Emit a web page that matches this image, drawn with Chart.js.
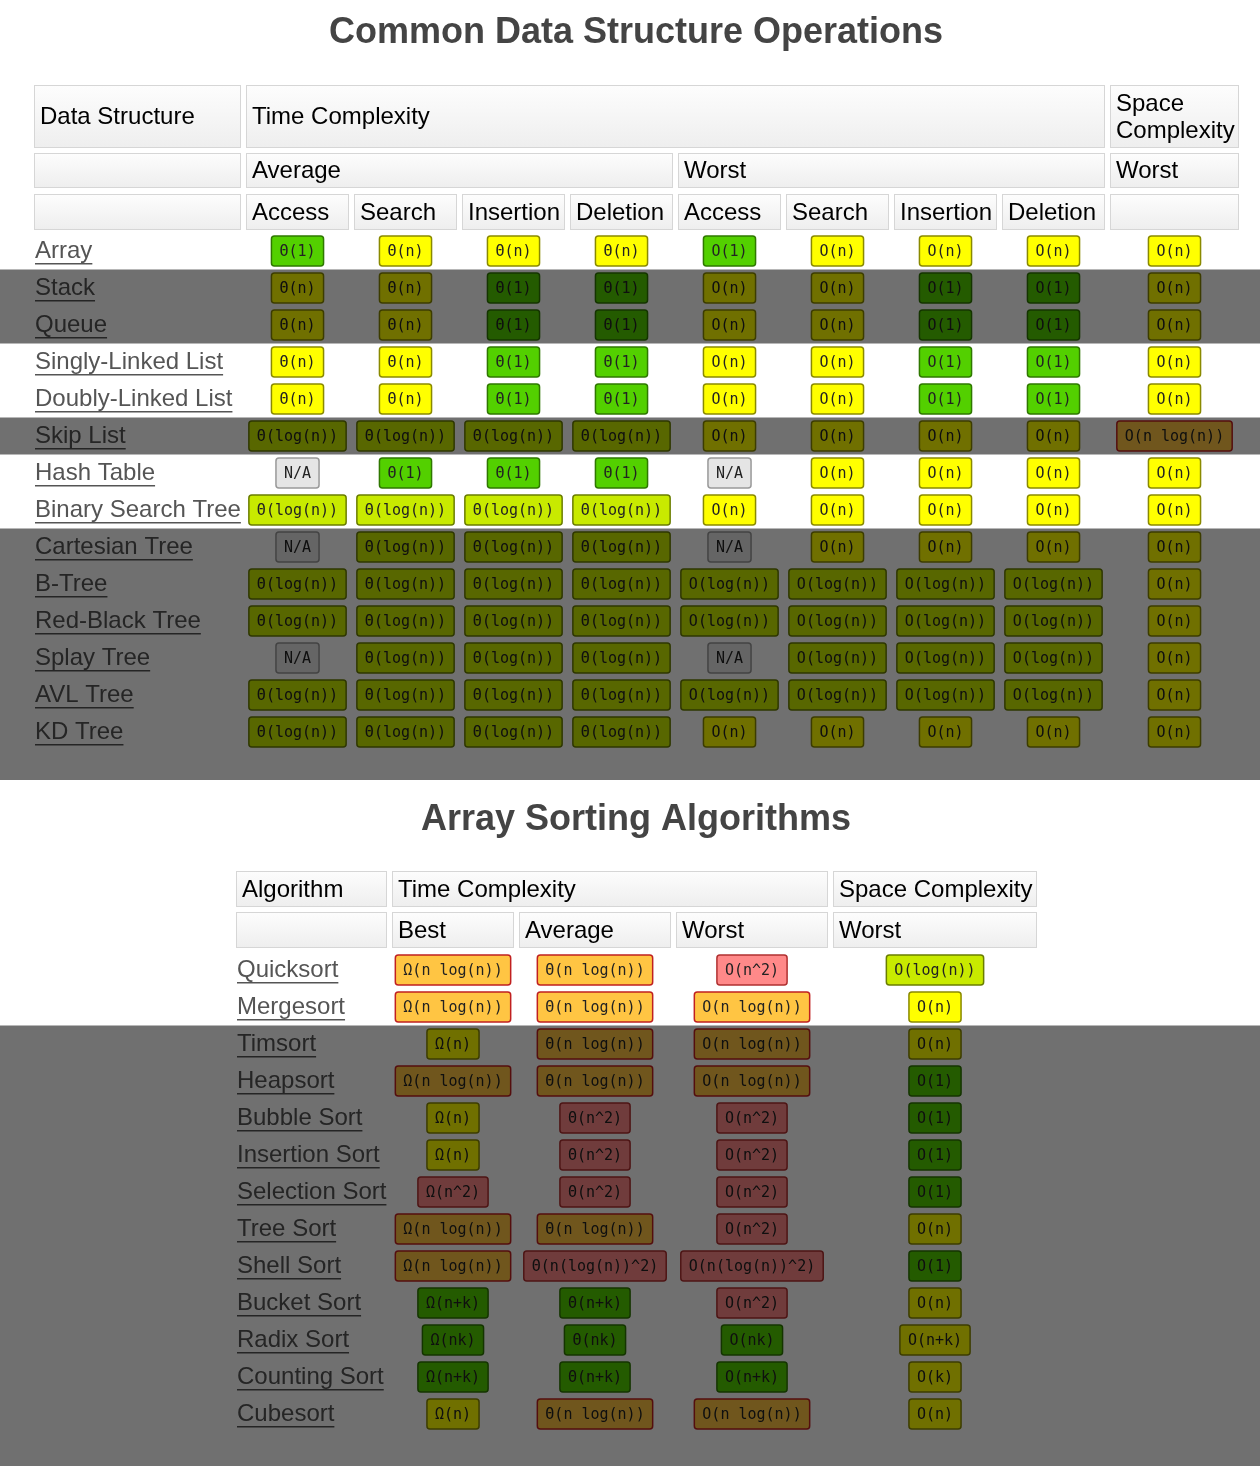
<!DOCTYPE html>
<html>
<head>
<meta charset="utf-8">
<script src="https://cdn.jsdelivr.net/npm/chart.js@4"></script>
<style>
  html, body { margin: 0; padding: 0; background: #fff; }
  #wrap { width: 1260px; height: 1466px; }
</style>
</head>
<body>
<div id="wrap"><canvas id="myChart1"></canvas></div>
<script>
// ---- data ----
const dsNames = ['Array', 'Stack', 'Queue', 'Singly-Linked List', 'Doubly-Linked List', 'Skip List',
  'Hash Table', 'Binary Search Tree', 'Cartesian Tree', 'B-Tree', 'Red-Black Tree', 'Splay Tree',
  'AVL Tree', 'KD Tree'];
const dsOps = ['Access', 'Search', 'Insertion', 'Deletion'];
// each cell: "text|rating"  (G good, Y fair, L log, O so-so, R bad, N n/a)
const dsValues = [
  ['Θ(1)|G', 'Θ(n)|Y', 'Θ(n)|Y', 'Θ(n)|Y', 'O(1)|G', 'O(n)|Y', 'O(n)|Y', 'O(n)|Y', 'O(n)|Y'],
  ['Θ(n)|Y', 'Θ(n)|Y', 'Θ(1)|G', 'Θ(1)|G', 'O(n)|Y', 'O(n)|Y', 'O(1)|G', 'O(1)|G', 'O(n)|Y'],
  ['Θ(n)|Y', 'Θ(n)|Y', 'Θ(1)|G', 'Θ(1)|G', 'O(n)|Y', 'O(n)|Y', 'O(1)|G', 'O(1)|G', 'O(n)|Y'],
  ['Θ(n)|Y', 'Θ(n)|Y', 'Θ(1)|G', 'Θ(1)|G', 'O(n)|Y', 'O(n)|Y', 'O(1)|G', 'O(1)|G', 'O(n)|Y'],
  ['Θ(n)|Y', 'Θ(n)|Y', 'Θ(1)|G', 'Θ(1)|G', 'O(n)|Y', 'O(n)|Y', 'O(1)|G', 'O(1)|G', 'O(n)|Y'],
  ['Θ(log(n))|L', 'Θ(log(n))|L', 'Θ(log(n))|L', 'Θ(log(n))|L', 'O(n)|Y', 'O(n)|Y', 'O(n)|Y', 'O(n)|Y', 'O(n log(n))|O'],
  ['N/A|N', 'Θ(1)|G', 'Θ(1)|G', 'Θ(1)|G', 'N/A|N', 'O(n)|Y', 'O(n)|Y', 'O(n)|Y', 'O(n)|Y'],
  ['Θ(log(n))|L', 'Θ(log(n))|L', 'Θ(log(n))|L', 'Θ(log(n))|L', 'O(n)|Y', 'O(n)|Y', 'O(n)|Y', 'O(n)|Y', 'O(n)|Y'],
  ['N/A|N', 'Θ(log(n))|L', 'Θ(log(n))|L', 'Θ(log(n))|L', 'N/A|N', 'O(n)|Y', 'O(n)|Y', 'O(n)|Y', 'O(n)|Y'],
  ['Θ(log(n))|L', 'Θ(log(n))|L', 'Θ(log(n))|L', 'Θ(log(n))|L', 'O(log(n))|L', 'O(log(n))|L', 'O(log(n))|L', 'O(log(n))|L', 'O(n)|Y'],
  ['Θ(log(n))|L', 'Θ(log(n))|L', 'Θ(log(n))|L', 'Θ(log(n))|L', 'O(log(n))|L', 'O(log(n))|L', 'O(log(n))|L', 'O(log(n))|L', 'O(n)|Y'],
  ['N/A|N', 'Θ(log(n))|L', 'Θ(log(n))|L', 'Θ(log(n))|L', 'N/A|N', 'O(log(n))|L', 'O(log(n))|L', 'O(log(n))|L', 'O(n)|Y'],
  ['Θ(log(n))|L', 'Θ(log(n))|L', 'Θ(log(n))|L', 'Θ(log(n))|L', 'O(log(n))|L', 'O(log(n))|L', 'O(log(n))|L', 'O(log(n))|L', 'O(n)|Y'],
  ['Θ(log(n))|L', 'Θ(log(n))|L', 'Θ(log(n))|L', 'Θ(log(n))|L', 'O(n)|Y', 'O(n)|Y', 'O(n)|Y', 'O(n)|Y', 'O(n)|Y']
];
const dsDimmed = [1, 2, 5, 8, 9, 10, 11, 12, 13];

const sortNames = ['Quicksort', 'Mergesort', 'Timsort', 'Heapsort', 'Bubble Sort', 'Insertion Sort',
  'Selection Sort', 'Tree Sort', 'Shell Sort', 'Bucket Sort', 'Radix Sort', 'Counting Sort', 'Cubesort'];
const sortValues = [
  ['Ω(n log(n))|O', 'Θ(n log(n))|O', 'O(n^2)|R', 'O(log(n))|L'],
  ['Ω(n log(n))|O', 'Θ(n log(n))|O', 'O(n log(n))|O', 'O(n)|Y'],
  ['Ω(n)|Y', 'Θ(n log(n))|O', 'O(n log(n))|O', 'O(n)|Y'],
  ['Ω(n log(n))|O', 'Θ(n log(n))|O', 'O(n log(n))|O', 'O(1)|G'],
  ['Ω(n)|Y', 'Θ(n^2)|R', 'O(n^2)|R', 'O(1)|G'],
  ['Ω(n)|Y', 'Θ(n^2)|R', 'O(n^2)|R', 'O(1)|G'],
  ['Ω(n^2)|R', 'Θ(n^2)|R', 'O(n^2)|R', 'O(1)|G'],
  ['Ω(n log(n))|O', 'Θ(n log(n))|O', 'O(n^2)|R', 'O(n)|Y'],
  ['Ω(n log(n))|O', 'Θ(n(log(n))^2)|R', 'O(n(log(n))^2)|R', 'O(1)|G'],
  ['Ω(n+k)|G', 'Θ(n+k)|G', 'O(n^2)|R', 'O(n)|Y'],
  ['Ω(nk)|G', 'Θ(nk)|G', 'O(nk)|G', 'O(n+k)|Y'],
  ['Ω(n+k)|G', 'Θ(n+k)|G', 'O(n+k)|G', 'O(k)|Y'],
  ['Ω(n)|Y', 'Θ(n log(n))|O', 'O(n log(n))|O', 'O(n)|Y']
];
const sortDimmed = [2, 3, 4, 5, 6, 7, 8, 9, 10, 11, 12];

// ---- layout / style ----
const ratingColors = { G: '#53d000', Y: '#ffff00', L: '#c8ea00', O: '#ffc543', R: '#ff8989', N: '#e5e5e5' };
const ratingBorders = { G: '#2f7800', Y: '#8a8a00', L: '#6a7d00', O: '#c02020', R: '#b03030', N: '#999' };
const T1 = { cols: [[34, 241], [246, 349], [354, 457], [462, 565], [570, 673], [678, 781], [786, 889], [894, 997], [1002, 1105], [1110, 1239]],
  row0: 251, step: 37, bandEnd: 780 };
const T2 = { cols: [[236, 387], [392, 514], [519, 671], [676, 828], [833, 1037]],
  row0: 970, step: 37, bandEnd: 1466 };
const FONT = '"Liberation Sans", Arial, sans-serif';

const tablePlugin = {
  id: 'tables',
  afterDraw(chart) {
    const c = chart.ctx, xs = chart.scales.x, ys = chart.scales.y;
    const X = v => xs.getPixelForValue(v), Y = v => ys.getPixelForValue(v);

    function header(x0, x1, y0, y1, text, lines) {
      const g = c.createLinearGradient(0, Y(y0), 0, Y(y1));
      g.addColorStop(0, '#fdfdfd'); g.addColorStop(1, '#eeeeee');
      c.fillStyle = g;
      c.fillRect(X(x0), Y(y0), X(x1) - X(x0), Y(y1) - Y(y0));
      c.strokeStyle = '#d6d6d6'; c.lineWidth = 1;
      c.strokeRect(X(x0) + 0.5, Y(y0) + 0.5, X(x1) - X(x0) - 1, Y(y1) - Y(y0) - 1);
      if (!text) return;
      c.fillStyle = '#000'; c.font = '24px ' + FONT;
      c.textAlign = 'left'; c.textBaseline = 'middle';
      const ls = lines || [text];
      const mid = (Y(y0) + Y(y1)) / 2;
      ls.forEach((t, i) => c.fillText(t, X(x0) + 6, mid + 1 + (i - (ls.length - 1) / 2) * 27));
    }
    function badge(cx, cy, cell) {
      const [txt, r] = cell.split('|');
      c.font = '15px "DejaVu Sans Mono", monospace';
      const w = c.measureText(txt).width + 16, h = 30;
      const x = X(cx) - w / 2, y = Y(cy) - h / 2;
      c.fillStyle = ratingColors[r]; c.strokeStyle = ratingBorders[r]; c.lineWidth = 1.5;
      c.beginPath(); c.roundRect(x, y, w, h, 3); c.fill(); c.stroke();
      c.fillStyle = '#222'; c.textAlign = 'center'; c.textBaseline = 'middle';
      c.fillText(txt, X(cx), Y(cy) + 1);
    }
    function rowLabel(x, y, t) {
      c.font = '24px ' + FONT;
      c.fillStyle = '#555'; c.textAlign = 'left'; c.textBaseline = 'middle';
      c.fillText(t, X(x), Y(y));
      const w = c.measureText(t).width;
      c.fillRect(X(x), Y(y) + 12, w, 1.5);
    }
    function title(t, y) {
      c.font = 'bold 36px ' + FONT;
      c.fillStyle = '#444'; c.textAlign = 'center'; c.textBaseline = 'middle';
      c.fillText(t, X(636), Y(y));
    }
    function bands(rows, T, count) {
      c.fillStyle = 'rgba(0,0,0,0.56)';
      let i = 0;
      while (i < rows.length) {
        let j = i;
        while (j + 1 < rows.length && rows[j + 1] === rows[j] + 1) j++;
        const y0 = T.row0 + rows[i] * T.step - T.step / 2;
        const y1 = rows[j] === count - 1 ? T.bandEnd : T.row0 + rows[j] * T.step + T.step / 2;
        c.fillRect(X(0), Y(y0), X(1260) - X(0), Y(y1) - Y(y0));
        i = j + 1;
      }
    }
    const mid = col => (col[0] + col[1]) / 2;

    // table 1
    title('Common Data Structure Operations', 33);
    const k = T1.cols;
    header(k[0][0], k[0][1], 85, 148, 'Data Structure');
    header(k[1][0], k[8][1], 85, 148, 'Time Complexity');
    header(k[9][0], k[9][1], 85, 148, 'Space', ['Space', 'Complexity']);
    header(k[0][0], k[0][1], 153, 188, '');
    header(k[1][0], k[4][1], 153, 188, 'Average');
    header(k[5][0], k[8][1], 153, 188, 'Worst');
    header(k[9][0], k[9][1], 153, 188, 'Worst');
    header(k[0][0], k[0][1], 194, 230, '');
    for (let i = 0; i < 8; i++) header(k[i + 1][0], k[i + 1][1], 194, 230, dsOps[i % 4]);
    header(k[9][0], k[9][1], 194, 230, '');
    dsNames.forEach((n, r) => {
      const y = T1.row0 + r * T1.step;
      rowLabel(35, y, n);
      dsValues[r].forEach((cell, j) => badge(mid(k[j + 1]), y, cell));
    });
    bands(dsDimmed, T1, dsNames.length);

    // table 2
    title('Array Sorting Algorithms', 820);
    const m = T2.cols;
    header(m[0][0], m[0][1], 871, 907, 'Algorithm');
    header(m[1][0], m[3][1], 871, 907, 'Time Complexity');
    header(m[4][0], m[4][1], 871, 907, 'Space Complexity');
    header(m[0][0], m[0][1], 912, 948, '');
    header(m[1][0], m[1][1], 912, 948, 'Best');
    header(m[2][0], m[2][1], 912, 948, 'Average');
    header(m[3][0], m[3][1], 912, 948, 'Worst');
    header(m[4][0], m[4][1], 912, 948, 'Worst');
    sortNames.forEach((n, r) => {
      const y = T2.row0 + r * T2.step;
      rowLabel(237, y, n);
      sortValues[r].forEach((cell, j) => badge(mid(m[j + 1]), y, cell));
    });
    bands(sortDimmed, T2, sortNames.length);
  }
};

new Chart(document.getElementById('myChart1'), {
  type: 'scatter',
  data: { datasets: [{ data: [], pointRadius: 0 }] },
  options: {
    responsive: true,
    maintainAspectRatio: false,
    animation: false,
    layout: { padding: 0 },
    plugins: { legend: { display: false }, tooltip: { enabled: false } },
    scales: {
      x: { type: 'linear', min: 0, max: 1260, display: false },
      y: { type: 'linear', min: 0, max: 1466, reverse: true, display: false }
    }
  },
  plugins: [tablePlugin]
});
</script>
</body>
</html>
